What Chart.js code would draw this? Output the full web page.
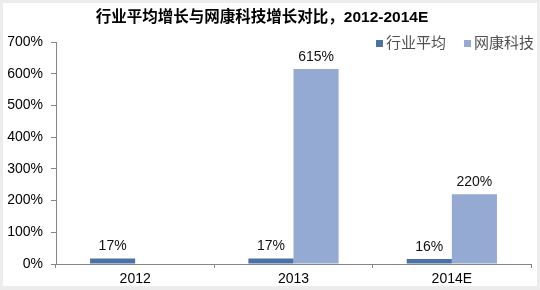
<!DOCTYPE html>
<html>
<head>
<meta charset="utf-8">
<script src="https://cdn.jsdelivr.net/npm/chart.js@4"></script>
<style>
  body { margin: 0; background: #ececec; }
  #wrap { position: relative; width: 540px; height: 290px; }
  #panel { position: absolute; left: 3px; top: 3px; width: 534px; height: 283px; background: #fff; }
  #grafico { position: absolute; left: 0; top: 0; }
</style>
</head>
<body>
<div id="wrap">
  <div id="panel"></div>
  <canvas id="grafico" width="540" height="290"></canvas>
</div>
<script>
// datos
const categorias = ['2012', '2013', '2014E'];
const nombresSeries = ['行业平均', '网康科技'];
const promedioIndustria = [17, 17, 16];
const wangkang = [null, 615, 220];
const ticksY = [0, 100, 200, 300, 400, 500, 600, 700];
const titulo = '行业平均增长与网康科技增长对比，2012-2014E';

const colores = ['#4a72a8', '#94aad3'];
const ejeColor = '#868686';
const fuente = '"Liberation Sans", Arial, "Noto Sans CJK SC", sans-serif';

// título, leyenda y etiquetas de valor
const extras = {
    id: 'extras',
    afterDraw(chart) {
        const ctx = chart.ctx;
        ctx.save();
        ctx.fillStyle = '#000';
        ctx.font = 'bold 15.5px ' + fuente;
        ctx.textAlign = 'center';
        ctx.textBaseline = 'middle';
        ctx.fillText(titulo, 262, 18);

        // leyenda
        ctx.font = '15px ' + fuente;
        ctx.textAlign = 'left';
        let x = 376;
        chart.data.datasets.forEach((ds, i) => {
            ctx.fillStyle = ds.backgroundColor;
            ctx.fillRect(x, 40, 7, 7);
            ctx.fillStyle = '#505050';
            ctx.fillText(ds.label, x + 10, 44);
            x += 88;
        });

        // etiquetas sobre las barras
        ctx.font = '14px ' + fuente;
        ctx.fillStyle = '#111';
        ctx.textAlign = 'center';
        ctx.textBaseline = 'bottom';
        chart.data.datasets.forEach((ds, i) => {
            const meta = chart.getDatasetMeta(i);
            meta.data.forEach((bar, j) => {
                const v = ds.data[j];
                if (v === null) return;
                ctx.fillText(v + '%', bar.x, bar.y - 5);
            });
        });
        ctx.restore();
    }
};

new Chart(document.getElementById('grafico'), {
    type: 'bar',
    data: {
        labels: categorias,
        datasets: [
            { label: nombresSeries[0], data: promedioIndustria, backgroundColor: colores[0] },
            { label: nombresSeries[1], data: wangkang, backgroundColor: colores[1] }
        ]
    },
    options: {
        responsive: false,
        animation: false,
        layout: { padding: { top: 42, right: 9, left: 0, bottom: 0 } },
        categoryPercentage: 0.57,
        barPercentage: 1,
        plugins: {
            legend: { display: false },
            title: { display: false },
            tooltip: { enabled: false }
        },
        scales: {
            x: {
                grid: { drawOnChartArea: false, tickLength: 4, color: ejeColor },
                border: { color: ejeColor },
                ticks: { color: '#000', font: { family: fuente, size: 14 }, padding: 3 },
                afterFit(scale) { scale.height = 26; }
            },
            y: {
                min: 0,
                max: 700,
                afterBuildTicks(scale) { scale.ticks = ticksY.map(v => ({ value: v })); },
                grid: { drawOnChartArea: false, tickLength: 5, color: ejeColor },
                border: { color: ejeColor },
                ticks: {
                    color: '#000',
                    font: { family: fuente, size: 14 },
                    padding: 8,
                    callback: v => v + '%'
                },
                afterFit(scale) { scale.width = 56; }
            }
        }
    },
    plugins: [extras]
});
</script>
</body>
</html>
